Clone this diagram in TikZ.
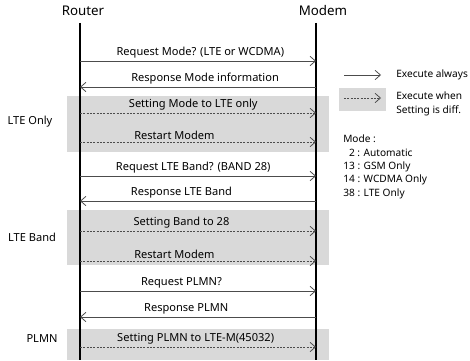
\documentclass[tikz,border=0pt]{standalone}
\usepackage{fontspec}
\setmainfont{Noto Sans}
\usetikzlibrary{arrows.meta}

\tikzset{
  lifeline/.style={draw=black, line width=1pt},
  msg/.style={draw=black!70, line width=0.6pt, -{Straight Barb[length=4pt,width=7pt]}},
  condmsg/.style={msg, dash pattern=on 1.5pt off 1pt},
  shadebox/.style={fill=black!15, draw=none},
  head/.style={font=\fontsize{10}{12}\selectfont, inner sep=0.75pt},
  lbl/.style={font=\fontsize{8.3}{10}\selectfont, inner sep=0.75pt, above=0.8pt},
  txt/.style={font=\fontsize{8.3}{10}\selectfont, inner sep=0.75pt},
  legtxt/.style={font=\fontsize{7.6}{10}\selectfont, inner sep=0.75pt, align=left},
}

\begin{document}
\begin{tikzpicture}[x=0.75pt,y=0.75pt,yscale=-1,xscale=1]
\useasboundingbox (0,0) rectangle (470,360);

%Shape: Rectangle (conditional blocks)
\fill[shadebox] (67,96) rectangle (329,152);
\fill[shadebox] (67,210) rectangle (329,265);
\fill[shadebox] (67,329) rectangle (329,360);

% Text Node
\node[head] (router) at (83,11) {Router};
% Text Node
\node[head] (modem) at (323,11) {Modem};

% lifelines
\coordinate (rtop) at (80,23);
\coordinate (rbot) at (80,360);
\coordinate (mtop) at (316,23);
\coordinate (mbot) at (316,360);
\draw[lifeline] (rtop) -- (rbot);
\draw[lifeline] (mtop) -- (mbot);

% message end points
\coordinate (r1) at (80,61);   \coordinate (m1) at (316,61);
\coordinate (r2) at (80,87);   \coordinate (m2) at (316,87);
\coordinate (r3) at (80,113);  \coordinate (m3) at (316,113);
\coordinate (r4) at (80,142);  \coordinate (m4) at (316,142);
\coordinate (r5) at (80,176);  \coordinate (m5) at (316,176);
\coordinate (r6) at (80,201);  \coordinate (m6) at (316,201);
\coordinate (r7) at (80,231);  \coordinate (m7) at (316,231);
\coordinate (r8) at (80,261);  \coordinate (m8) at (316,261);
\coordinate (r9) at (80,291);  \coordinate (m9) at (316,291);
\coordinate (r10) at (80,317); \coordinate (m10) at (316,317);
\coordinate (r11) at (80,347); \coordinate (m11) at (316,347);

%Straight Lines
\draw[msg] (r1) -- (m1) node[lbl, pos=0.51] (q1) {Request Mode? (LTE or WCDMA)};
\draw[msg] (m2) -- (r2) node[lbl, pos=0.47] (q2) {Response Mode information};
\draw[condmsg] (r3) -- (m3) node[lbl, pos=0.48] (q3) {Setting Mode to LTE only};
\draw[condmsg] (r4) -- (m4) node[lbl, pos=0.40] (q4) {Restart Modem};
\draw[msg] (r5) -- (m5) node[lbl, pos=0.48] (q5) {Request LTE Band? (BAND 28)};
\draw[msg] (m6) -- (r6) node[lbl, pos=0.57] (q6) {Response LTE Band};
\draw[condmsg] (r7) -- (m7) node[lbl, pos=0.43] (q7) {Setting Band to 28};
\draw[condmsg] (r8) -- (m8) node[lbl, pos=0.40] (q8) {Restart Modem};
\draw[msg] (r9) -- (m9) node[lbl, pos=0.43] (q9) {Request PLMN?};
\draw[msg] (m10) -- (r10) node[lbl, pos=0.55] (q10) {Response PLMN};
\draw[condmsg] (r11) -- (m11) node[lbl, pos=0.49] (q11) {Setting PLMN to LTE-M(45032)};

% Text Node
\node[txt] (grp1) at (30,122) {LTE Only};
% Text Node
\node[txt] (grp2) at (32,237) {LTE Band};
% Text Node
\node[txt] (grp3) at (42,339) {PLMN};

% legend
\fill[shadebox] (339,88) rectangle (386,111);
\coordinate (la1) at (344,75); \coordinate (la2) at (381,75);
\coordinate (lb1) at (344,98); \coordinate (lb2) at (381,98);
\draw[msg] (la1) -- (la2);
\draw[condmsg] (lb1) -- (lb2);
% Text Node
\node[legtxt, anchor=west] (always) at (395,75) {Execute always};
% Text Node
\node[legtxt, anchor=west] (when) at (395,104) {Execute when\\Setting is diff.};
% Text Node
\node[legtxt, anchor=north west] (modes) at (342,134)
  {Mode :\\\hphantom{1}2 : Automatic\\13 : GSM Only\\14 : WCDMA Only\\38 : LTE Only};
\end{tikzpicture}
\end{document}
